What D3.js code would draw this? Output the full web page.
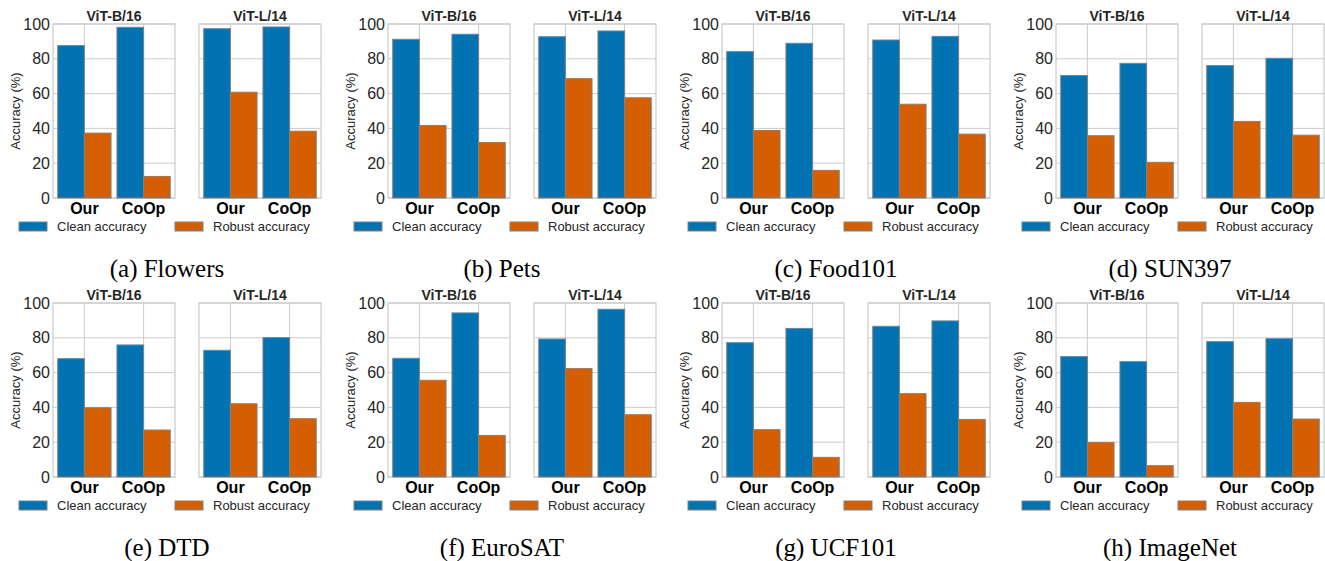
<!DOCTYPE html>
<html>
<head>
<meta charset="utf-8">
<script src="https://cdn.jsdelivr.net/npm/d3@7"></script>
<style>
  body { margin: 0; background: #fff; }
  svg { display: block; }
</style>
</head>
<body>
<svg id="chart" width="1325" height="561"></svg>
<script>
const datasets = ['Flowers', 'Pets', 'Food101', 'SUN397', 'DTD', 'EuroSAT', 'UCF101', 'ImageNet']
const letters = ['a', 'b', 'c', 'd', 'e', 'f', 'g', 'h']
const backbones = ['ViT-B/16', 'ViT-L/14']
const methods = ['Our', 'CoOp']
const metrics = ['Clean accuracy', 'Robust accuracy']
const yTicks = [0, 20, 40, 60, 80, 100]

// values read per dataset, same order as `datasets`
const b16OurClean   = [87.6, 91.2, 84.1, 70.4, 68.0, 68.2, 77.2, 69.2]
const b16OurRobust  = [37.3, 41.7, 38.8, 35.8, 39.8, 55.6, 27.2, 19.9]
const b16CoopClean  = [98.1, 94.1, 88.9, 77.4, 75.9, 94.3, 85.4, 66.3]
const b16CoopRobust = [12.4, 31.9, 15.9, 20.5, 27.0, 23.9, 11.3, 6.5]
const l14OurClean   = [97.3, 92.7, 90.8, 76.1, 72.8, 79.3, 86.6, 77.8]
const l14OurRobust  = [60.8, 68.6, 53.9, 44.0, 42.1, 62.3, 47.9, 42.9]
const l14CoopClean  = [98.3, 96.0, 92.9, 80.3, 80.1, 96.4, 89.7, 79.5]
const l14CoopRobust = [38.4, 57.6, 36.7, 36.1, 33.5, 35.8, 33.1, 33.3]

const colors = d3.scaleOrdinal().domain(metrics).range(['#0173b2', '#d55e00'])

// layout
const panelX = [0, 335, 669, 1003]
const rowY = [24, 303]
const axX = [53, 199]
const axW = 122
const axH = 174
const sans = '"Liberation Sans", Arial, Helvetica, sans-serif'
const gridColor = '#cccccc'
const textColor = '#262626'

function panelValues (k, b) {
  if (b === 0) {
    return [
      { method: 'Our', vals: [b16OurClean[k], b16OurRobust[k]] },
      { method: 'CoOp', vals: [b16CoopClean[k], b16CoopRobust[k]] }
    ]
  }
  return [
    { method: 'Our', vals: [l14OurClean[k], l14OurRobust[k]] },
    { method: 'CoOp', vals: [l14CoopClean[k], l14CoopRobust[k]] }
  ]
}

const svg = d3.select('#chart')
svg.append('rect').attr('width', 1325).attr('height', 561).attr('fill', '#fff')

const y = d3.scaleLinear().domain([0, 100]).range([axH, 0])
const x0 = d3.scaleBand().domain(methods).range([0, axW]).paddingInner(0.1).paddingOuter(0.08)
const x1 = d3.scaleBand().domain(metrics).range([0, x0.bandwidth()])

datasets.forEach((name, k) => {
  const row = Math.floor(k / 4)
  const col = k % 4
  const ox = panelX[col]
  const oy = rowY[row]
  const panel = svg.append('g').attr('transform', `translate(${ox},${oy})`)

  backbones.forEach((bb, b) => {
    const ax = panel.append('g').attr('transform', `translate(${axX[b]},0)`)
    const groups = panelValues(k, b)

    // grid
    ax.append('g')
      .selectAll('line.h')
      .data(yTicks)
      .join('line')
        .attr('x1', 0).attr('x2', axW)
        .attr('y1', d => y(d)).attr('y2', d => y(d))
        .attr('stroke', gridColor).attr('stroke-width', 1)
    ax.append('g')
      .selectAll('line.v')
      .data(methods)
      .join('line')
        .attr('x1', d => x0(d) + x0.bandwidth() / 2)
        .attr('x2', d => x0(d) + x0.bandwidth() / 2)
        .attr('y1', 0).attr('y2', axH)
        .attr('stroke', gridColor).attr('stroke-width', 1)

    // frame
    ax.append('rect')
      .attr('width', axW).attr('height', axH)
      .attr('fill', 'none').attr('stroke', gridColor).attr('stroke-width', 1.25)

    // bars
    ax.append('g')
      .selectAll('g')
      .data(groups)
      .join('g')
        .attr('transform', d => `translate(${x0(d.method)},0)`)
      .selectAll('rect')
      .data(d => d.vals.map((v, j) => ({ metric: metrics[j], value: v })))
      .join('rect')
        .attr('x', d => x1(d.metric))
        .attr('y', d => y(d.value))
        .attr('width', x1.bandwidth())
        .attr('height', d => axH - y(d.value))
        .attr('fill', d => colors(d.metric))
        .attr('stroke', '#808080')
        .attr('stroke-width', 1)

    // x tick labels
    const xAxis = d3.axisBottom(x0).tickSize(0).tickPadding(0)
    const xg = ax.append('g').attr('transform', `translate(0,${axH})`).call(xAxis)
    xg.select('.domain').remove()
    xg.selectAll('text')
      .attr('dy', null)
      .attr('y', 16)
      .attr('font-family', sans)
      .attr('font-size', 16)
      .attr('font-weight', 'bold')
      .attr('fill', '#000')

    // y tick labels on the left subplot only
    if (b === 0) {
      const yAxis = d3.axisLeft(y).tickValues(yTicks).tickSize(0).tickPadding(3)
      const yg = ax.append('g').call(yAxis)
      yg.select('.domain').remove()
      yg.selectAll('text')
        .attr('font-family', sans)
        .attr('font-size', 16)
        .attr('fill', textColor)

      ax.append('text')
        .attr('transform', `translate(${15 - axX[0]},${axH / 2}) rotate(-90)`)
        .attr('text-anchor', 'middle')
        .attr('dy', '0.35em')
        .attr('font-family', sans)
        .attr('font-size', 13)
        .attr('fill', textColor)
        .text('Accuracy (%)')
    }

    // subplot title
    ax.append('text')
      .attr('x', axW / 2)
      .attr('y', -3.5)
      .attr('text-anchor', 'middle')
      .attr('font-family', sans)
      .attr('font-size', 14)
      .attr('font-weight', 'bold')
      .attr('fill', textColor)
      .text(bb)
  })

  // legend
  const legX = [19, 175]
  const leg = panel.append('g').attr('transform', `translate(0,${axH + 24})`)
  metrics.forEach((m, j) => {
    leg.append('rect')
      .attr('x', legX[j]).attr('y', 0)
      .attr('width', 28).attr('height', 9)
      .attr('fill', colors(m))
      .attr('stroke', '#808080').attr('stroke-width', 1)
    leg.append('text')
      .attr('x', legX[j] + 38).attr('y', 4.5)
      .attr('dy', '0.35em')
      .attr('font-family', sans)
      .attr('font-size', 13)
      .attr('fill', textColor)
      .text(m)
  })

  // caption
  panel.append('text')
    .attr('x', 167)
    .attr('y', 253)
    .attr('text-anchor', 'middle')
    .attr('font-family', '"Liberation Serif", "Times New Roman", serif')
    .attr('font-size', 25)
    .attr('fill', '#000')
    .text(`(${letters[k]}) ${name}`)
})
</script>
</body>
</html>
